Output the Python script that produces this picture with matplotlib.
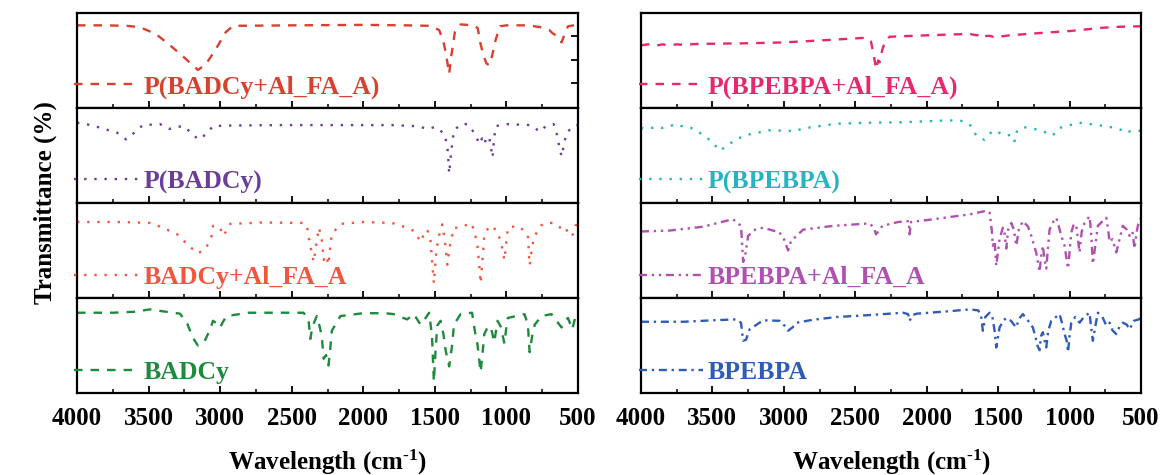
import matplotlib
matplotlib.use("Agg")
import matplotlib.pyplot as plt

plt.rcParams['font.family'] = ['Liberation Serif', 'DejaVu Serif']
plt.rcParams['font.weight'] = 'bold'
plt.rcParams['mathtext.fontset'] = 'custom'
plt.rcParams['mathtext.rm'] = 'Liberation Serif:bold'
plt.rcParams['mathtext.it'] = 'Liberation Serif:bold'
plt.rcParams['mathtext.bf'] = 'Liberation Serif:bold'
plt.rcParams['mathtext.default'] = 'regular'

# ---------------- data (wavenumber, normalised transmittance within each strip) -------------
p_badcy_al_x = [4000, 3800, 3650, 3560, 3450, 3350, 3250, 3155, 3100, 3030, 2960, 2910, 2500, 2000, 1700,
                1530, 1470, 1440, 1420, 1400, 1385, 1360, 1320, 1230, 1200, 1185, 1160, 1140, 1120, 1100,
                1075, 1045, 1000, 850, 760, 700, 680, 650, 630, 615, 600, 570, 530, 500]
p_badcy_al_y = [0.87, 0.87, 0.865, 0.85, 0.78, 0.66, 0.53, 0.40, 0.46, 0.62, 0.80, 0.865, 0.87, 0.875, 0.87,
                0.865, 0.82, 0.70, 0.55, 0.36, 0.55, 0.80, 0.88, 0.87, 0.84, 0.70, 0.55, 0.47, 0.45, 0.55,
                0.72, 0.86, 0.87, 0.87, 0.85, 0.82, 0.79, 0.76, 0.72, 0.69, 0.75, 0.86, 0.87, 0.875]

p_badcy_x = [4000, 3900, 3800, 3720, 3657, 3600, 3540, 3420, 3353, 3300, 3260, 3200, 3155, 3100, 3050, 2950,
             2600, 2200, 1800, 1650, 1600, 1550, 1500, 1460, 1430, 1410, 1400, 1385, 1367, 1320, 1273, 1245,
             1226, 1200, 1190, 1170, 1155, 1135, 1120, 1097, 1085, 1073, 1000, 830, 800, 770, 740, 720, 670,
             655, 640, 615, 600, 580, 530, 500]
p_badcy_y = [0.845, 0.82, 0.775, 0.74, 0.67, 0.74, 0.82, 0.83, 0.78, 0.80, 0.81, 0.74, 0.67, 0.72, 0.81, 0.815,
             0.82, 0.82, 0.82, 0.81, 0.80, 0.78, 0.80, 0.76, 0.72, 0.55, 0.31, 0.55, 0.76, 0.83, 0.83, 0.78,
             0.74, 0.66, 0.62, 0.68, 0.62, 0.70, 0.69, 0.48, 0.70, 0.81, 0.83, 0.82, 0.79, 0.75, 0.79, 0.81, 0.83,
             0.78, 0.66, 0.49, 0.60, 0.74, 0.81, 0.82]

badcy_al_x = [4000, 3700, 3490, 3400, 3300, 3220, 3155, 3100, 3060, 3050, 3000, 2980, 2950, 2930, 2700, 2420,
              2395, 2370, 2347, 2330, 2310, 2290, 2277, 2260, 2243, 2230, 2220, 2160, 2000, 1800, 1694, 1640,
              1600, 1580, 1553, 1530, 1507, 1490, 1470, 1448, 1430, 1413, 1395, 1367, 1320, 1250, 1225, 1203,
              1190, 1180, 1165, 1155, 1120, 1073, 1040, 1014, 1000, 990, 920, 870, 850, 838, 820, 802, 760,
              732, 670, 630, 600, 570, 540, 520, 500]
badcy_al_y = [0.80, 0.80, 0.79, 0.74, 0.67, 0.55, 0.47, 0.52, 0.65, 0.76, 0.74, 0.655, 0.72, 0.78, 0.795, 0.79,
              0.77, 0.55, 0.38, 0.55, 0.74, 0.62, 0.40, 0.45, 0.35, 0.55, 0.67, 0.78, 0.80, 0.79, 0.74, 0.70,
              0.59, 0.66, 0.72, 0.60, 0.155, 0.50, 0.66, 0.775, 0.60, 0.35, 0.55, 0.74, 0.74, 0.79, 0.72, 0.55,
              0.35, 0.155, 0.45, 0.655, 0.76, 0.72, 0.60, 0.40, 0.60, 0.74, 0.76, 0.70, 0.655, 0.345, 0.55, 0.655, 0.76,
              0.79, 0.79, 0.75, 0.69, 0.72, 0.655, 0.76, 0.78]

badcy_x = [4000, 3750, 3600, 3490, 3400, 3280, 3230, 3190, 3155, 3110, 3070, 3050, 3020, 3000, 2980, 2955,
           2800, 2418, 2383, 2370, 2355, 2325, 2305, 2290, 2277, 2260, 2243, 2230, 2220, 2160, 2000, 1850,
           1787, 1720, 1694, 1647, 1600, 1560, 1540, 1520, 1507, 1495, 1483, 1460, 1440, 1425, 1400, 1378,
           1367, 1320, 1240, 1215, 1203, 1190, 1180, 1165, 1155, 1132, 1110, 1085, 1062, 1040, 1014, 1000,
           990, 874, 850, 838, 820, 802, 755, 685, 650, 615, 590, 570, 540, 520, 500]
badcy_y = [0.845, 0.845, 0.855, 0.88, 0.86, 0.835, 0.73, 0.58, 0.50, 0.54, 0.67, 0.76, 0.73, 0.69, 0.75, 0.81,
           0.845, 0.845, 0.78, 0.57, 0.70, 0.81, 0.70, 0.60, 0.36, 0.40, 0.29, 0.48, 0.655, 0.81, 0.84, 0.84,
           0.83, 0.79, 0.775, 0.83, 0.72, 0.80, 0.845, 0.60, 0.12, 0.45, 0.71, 0.76, 0.62, 0.45, 0.28, 0.52,
           0.72, 0.83, 0.845, 0.60, 0.52, 0.35, 0.22, 0.45, 0.62, 0.69, 0.70, 0.535, 0.76, 0.70, 0.52, 0.70,
           0.79, 0.83, 0.72, 0.43, 0.60, 0.72, 0.81, 0.83, 0.76, 0.69, 0.76, 0.79, 0.67, 0.79, 0.82]

p_bpebpa_al_x = [4000, 3950, 3900, 3850, 3800, 3750, 3700, 3600, 3300, 3005, 2700, 2420, 2390, 2370, 2355,
                 2340, 2330, 2310, 2290, 2260, 2000, 1800, 1700, 1650, 1620, 1607, 1560, 1513, 1470, 1420,
                 1200, 1000, 768, 650, 512, 500]
p_bpebpa_al_y = [0.66, 0.67, 0.655, 0.67, 0.66, 0.67, 0.665, 0.675, 0.68, 0.69, 0.715, 0.74, 0.70, 0.55, 0.41,
                 0.50, 0.48, 0.62, 0.70, 0.75, 0.765, 0.775, 0.78, 0.765, 0.78, 0.755, 0.76, 0.74, 0.755, 0.765,
                 0.79, 0.81, 0.845, 0.855, 0.86, 0.865]

p_bpebpa_x = [4000, 3950, 3900, 3850, 3800, 3750, 3700, 3650, 3610, 3550, 3500, 3450, 3400, 3335, 3250, 3100,
              2960, 2935, 2865, 2630, 2400, 2165, 1840, 1760, 1700, 1653, 1620, 1595, 1560, 1525, 1480, 1443,
              1400, 1385, 1370, 1327, 1234, 1160, 1118, 1072, 932, 800, 676, 640, 618, 560, 512, 500]
p_bpebpa_y = [0.79, 0.78, 0.80, 0.79, 0.81, 0.83, 0.80, 0.79, 0.76, 0.70, 0.64, 0.55, 0.60, 0.67, 0.72, 0.765,
              0.76, 0.75, 0.785, 0.835, 0.845, 0.85, 0.87, 0.865, 0.83, 0.71, 0.68, 0.665, 0.73, 0.765, 0.73, 0.71,
              0.72, 0.65, 0.75, 0.80, 0.775, 0.74, 0.71, 0.79, 0.845, 0.82, 0.79, 0.77, 0.74, 0.76, 0.76, 0.76]

bpebpa_al_x = [4000, 3800, 3567, 3357, 3300, 3285, 3270, 3250, 3200, 3145, 3030, 3000, 2970, 2950, 2935, 2900,
               2865, 2650, 2400, 2370, 2355, 2330, 2310, 2200, 2125, 2120, 2110, 2000, 1850, 1700, 1607, 1575,
               1560, 1545, 1537, 1525, 1513, 1500, 1490, 1467, 1455, 1443, 1430, 1408, 1390, 1373, 1355, 1327,
               1290, 1268, 1250, 1234, 1222, 1210, 1198, 1187, 1175, 1163, 1150, 1140, 1115, 1093, 1075, 1058,
               1035, 1011, 1000, 988, 970, 953, 940, 930, 915, 895, 860, 850, 837, 820, 802, 775, 743, 730, 720,
               700, 673, 650, 627, 600, 580, 560, 545, 530, 515, 500]
bpebpa_al_y = [0.70, 0.71, 0.75, 0.83, 0.76, 0.38, 0.45, 0.655, 0.72, 0.74, 0.69, 0.62, 0.50, 0.60, 0.62, 0.67,
               0.72, 0.76, 0.785, 0.74, 0.67, 0.72, 0.76, 0.80, 0.81, 0.67, 0.80, 0.82, 0.85, 0.88, 0.91, 0.92,
               0.90, 0.72, 0.55, 0.60, 0.34, 0.50, 0.62, 0.74, 0.68, 0.52, 0.72, 0.79, 0.72, 0.55, 0.72, 0.81,
               0.75, 0.655, 0.56, 0.48, 0.38, 0.275, 0.45, 0.55, 0.40, 0.31, 0.55, 0.72, 0.80, 0.845, 0.75, 0.655,
               0.55, 0.31, 0.48, 0.69, 0.78, 0.76, 0.60, 0.48, 0.70, 0.79, 0.86, 0.70, 0.36, 0.55, 0.76, 0.80, 0.845, 0.72, 0.59,
               0.62, 0.48, 0.62, 0.76, 0.72, 0.655, 0.70, 0.52, 0.70, 0.81, 0.84]

bpebpa_x = [4000, 3700, 3500, 3335, 3300, 3285, 3265, 3240, 3190, 3145, 3030, 2990, 2970, 2940, 2910, 2800,
            2630, 2400, 2165, 2130, 2120, 2100, 2070, 1850, 1700, 1640, 1620, 1607, 1590, 1560, 1540, 1525,
            1513, 1500, 1490, 1465, 1443, 1410, 1390, 1373, 1355, 1327, 1290, 1257, 1240, 1225, 1210, 1200,
            1187, 1175, 1163, 1150, 1128, 1070, 1050, 1035, 1020, 1011, 1000, 988, 960, 930, 900, 860, 850,
            837, 820, 802, 770, 743, 720, 700, 673, 650, 627, 600, 580, 550, 515, 500]
bpebpa_y = [0.75, 0.75, 0.765, 0.775, 0.74, 0.55, 0.56, 0.67, 0.72, 0.765, 0.76, 0.70, 0.655, 0.69, 0.74, 0.77,
            0.80, 0.82, 0.845, 0.83, 0.76, 0.82, 0.835, 0.86, 0.88, 0.87, 0.82, 0.655, 0.80, 0.845, 0.80, 0.655,
            0.48, 0.60, 0.69, 0.76, 0.79, 0.76, 0.72, 0.69, 0.78, 0.83, 0.76, 0.69, 0.60, 0.50, 0.45, 0.60,
            0.64, 0.55, 0.48, 0.65, 0.76, 0.83, 0.72, 0.62, 0.55, 0.43, 0.60, 0.74, 0.80, 0.74, 0.80, 0.845, 0.70,
            0.55, 0.70, 0.845, 0.80, 0.71, 0.74, 0.66, 0.62, 0.70, 0.74, 0.72, 0.67, 0.76, 0.775, 0.79]

left_series = [
    ("P(BADCy+Al_FA_A)", p_badcy_al_x, p_badcy_al_y),
    ("P(BADCy)", p_badcy_x, p_badcy_y),
    ("BADCy+Al_FA_A", badcy_al_x, badcy_al_y),
    ("BADCy", badcy_x, badcy_y),
]
right_series = [
    ("P(BPEBPA+Al_FA_A)", p_bpebpa_al_x, p_bpebpa_al_y),
    ("P(BPEBPA)", p_bpebpa_x, p_bpebpa_y),
    ("BPEBPA+Al_FA_A", bpebpa_al_x, bpebpa_al_y),
    ("BPEBPA", bpebpa_x, bpebpa_y),
]
left_colors = ['#d9412e', '#6a3d9a', '#f4553f', '#1e8a3c']
right_colors = ['#e8286e', '#26b5c0', '#b050b0', '#2e5cb8']
left_styles = [(0, (3.6, 3.4)), (0, (1.0, 3.3)), (0, (1.0, 3.3)), (0, (3.6, 3.4))]
right_styles = [(0, (3.6, 3.4)), (0, (1.0, 3.3)), (0, (3.4, 2.0, 1.0, 2.0, 1.0, 2.0)), (0, (3.4, 2.0, 1.0, 2.0))]

xticks = [4000, 3500, 3000, 2500, 2000, 1500, 1000, 500]
minor_xticks = [3750, 3250, 2750, 2250, 1750, 1250, 750]

fig = plt.figure(figsize=(11.66, 4.75), dpi=100)
top, bottom = 1 - 13 / 475, 1 - 393 / 475
gsL = fig.add_gridspec(4, 1, left=77 / 1166, right=578 / 1166, top=top, bottom=bottom, hspace=0)
gsR = fig.add_gridspec(4, 1, left=641 / 1166, right=1141 / 1166, top=top, bottom=bottom, hspace=0)


def draw(gs, series, colors, styles, rightticks):
    axes = []
    for i, ((label, xs, ys), c, ls) in enumerate(zip(series, colors, styles)):
        ax = fig.add_subplot(gs[i])
        ax.plot(xs, ys, color=c, lw=1.7, linestyle=ls, label=label)
        ax.set_xlim(4000, 500)
        ax.set_ylim(0, 1)
        ax.set_xticks(xticks)
        ax.set_xticks(minor_xticks, minor=True)
        ax.tick_params(axis='x', which='major', direction='in', length=5, width=1.3,
                       labelsize=18, pad=10, labelbottom=(i == 3))
        ax.tick_params(axis='x', which='minor', direction='in', length=3, width=1.1)
        if rightticks and i == 0:
            ax.yaxis.tick_right()
            ax.set_yticks([0.26, 0.51, 0.76])
            ax.set_yticklabels([])
            ax.tick_params(axis='y', direction='in', length=5, width=1.3)
        else:
            ax.set_yticks([])
        for s in ax.spines.values():
            s.set_linewidth(1.6)
        for lbl in ax.get_xticklabels():
            lbl.set_fontweight('bold')
        ax.legend(loc='center left', bbox_to_anchor=(-0.005, 0.22), borderaxespad=0, borderpad=0,
                  frameon=False, handlelength=2.5, handletextpad=0.2, labelcolor='linecolor',
                  prop={'family': 'Liberation Serif', 'weight': 'bold', 'size': 18.5})
        axes.append(ax)
    axes[-1].set_xlabel(r'Wavelength (cm$^{\text{-1}}$)', fontsize=18, fontweight='bold', labelpad=13)
    return axes


axL = draw(gsL, left_series, left_colors, left_styles, True)
axR = draw(gsR, right_series, right_colors, right_styles, False)

fig.text(45 / 1166, 1 - 203 / 475, 'Transmittance (%)', rotation=90, fontsize=18, fontweight='bold',
         ha='center', va='center')

fig.savefig('out.png', dpi=100)
